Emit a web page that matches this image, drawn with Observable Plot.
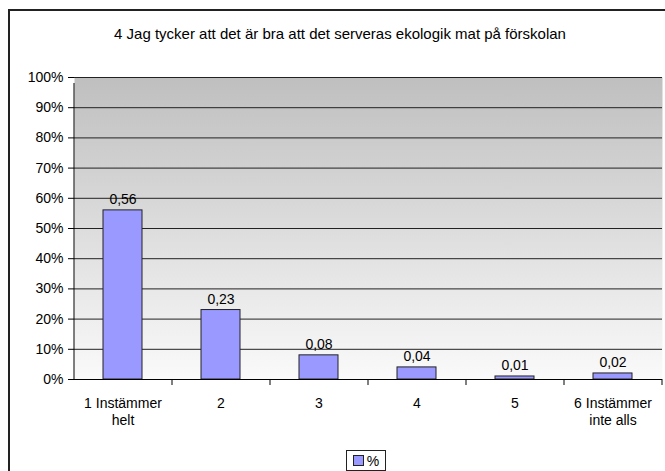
<!DOCTYPE html>
<html><head><meta charset="utf-8">
<script src="https://cdn.jsdelivr.net/npm/d3@7"></script>
<script src="https://cdn.jsdelivr.net/npm/@observablehq/plot@0.6"></script>
<style>
body{margin:0;background:#fff;font-family:"Liberation Sans",Arial,sans-serif;}
#wrap{position:relative;width:665px;height:471px;overflow:hidden;}
#frame{position:absolute;left:8px;top:9px;width:680px;height:480px;border-left:2px solid #222;border-top:2px solid #222;box-sizing:border-box;}
#title{position:absolute;left:0;width:680px;top:25px;text-align:center;font-size:15px;color:#000;}
#legend{position:absolute;left:346px;top:450px;width:40px;height:21px;border:1px solid #222;box-sizing:border-box;font-size:14px;display:flex;align-items:center;justify-content:center;gap:3px;background:#fff;}
#legend span.sw{display:inline-block;width:9px;height:9px;background:#9999FF;border:1px solid #222;}
#chart{position:absolute;left:0;top:0;}
</style></head>
<body>
<div id="wrap">
<div id="frame"></div>
<div id="title">4 Jag tycker att det är bra att det serveras ekologik mat på förskolan</div>
<div id="chart"></div>
<div id="legend"><span class="sw"></span><span>%</span></div>
</div>
<script>
const categories = ["1 Instämmer\nhelt", "2", "3", "4", "5", "6 Instämmer\ninte alls"];
const values = [0.56, 0.23, 0.08, 0.04, 0.01, 0.02];
const yTicks = [0, 0.1, 0.2, 0.3, 0.4, 0.5, 0.6, 0.7, 0.8, 0.9, 1.0];

const data = categories.map((c, i) => ({cat: c, v: values[i]}));
const W = 665, H = 471, mL = 74, mR = 3, mT = 77, mB = 92;
const step = (W - mL - mR) / categories.length;

const plot = Plot.plot({
  width: W, height: H,
  marginLeft: mL, marginRight: mR, marginTop: mT, marginBottom: mB,
  style: {fontFamily: '"Liberation Sans", Arial, sans-serif', fontSize: "14px", background: "transparent", overflow: "visible"},
  x: {type: "band", domain: categories, paddingInner: 0.6, paddingOuter: 0.3, align: 0.5, label: null},
  y: {domain: [0, 1], label: null},
  marks: [
    Plot.frame({fill: "url(#bggrad)", stroke: null}),
    Plot.ruleY(yTicks, {stroke: "#222", strokeWidth: 1}),
    Plot.axisY(yTicks, {tickFormat: d => Math.round(d * 100) + "%", tickSize: 6, tickPadding: 5, fontSize: 14, stroke: "#000", color: "#000"}),
    Plot.axisX({tickSize: 0, tickPadding: 17, fontSize: 14, lineHeight: 1.2, color: "#000"}),
    Plot.ruleX(categories, {x: d => d, dx: step / 2, y1: 0, y2: 0, insetBottom: -6, stroke: "#000"}),
    Plot.ruleX(categories.slice(0, 1), {x: d => d, dx: -step / 2, y1: 0, y2: 1, insetBottom: -6, stroke: "#000"}),
    Plot.barY(data, {x: "cat", y: "v", fill: "#9999FF", stroke: "#222", strokeWidth: 1}),
    Plot.ruleY([0], {stroke: "#000"}),
    Plot.text(data, {x: "cat", y: "v", text: d => d.v.toFixed(2).replace(".", ","), dy: -11, fontSize: 14, fill: "#000"})
  ]
});

const svg = d3.select(plot);
const defs = svg.insert("defs", ":first-child");
const g = defs.append("linearGradient").attr("id", "bggrad").attr("x1", 0).attr("y1", 0).attr("x2", 0).attr("y2", 1);
g.append("stop").attr("offset", "0%").attr("stop-color", "#bfbfbf");
g.append("stop").attr("offset", "100%").attr("stop-color", "#fafafa");
document.getElementById("chart").appendChild(plot);
</script>
</body></html>
